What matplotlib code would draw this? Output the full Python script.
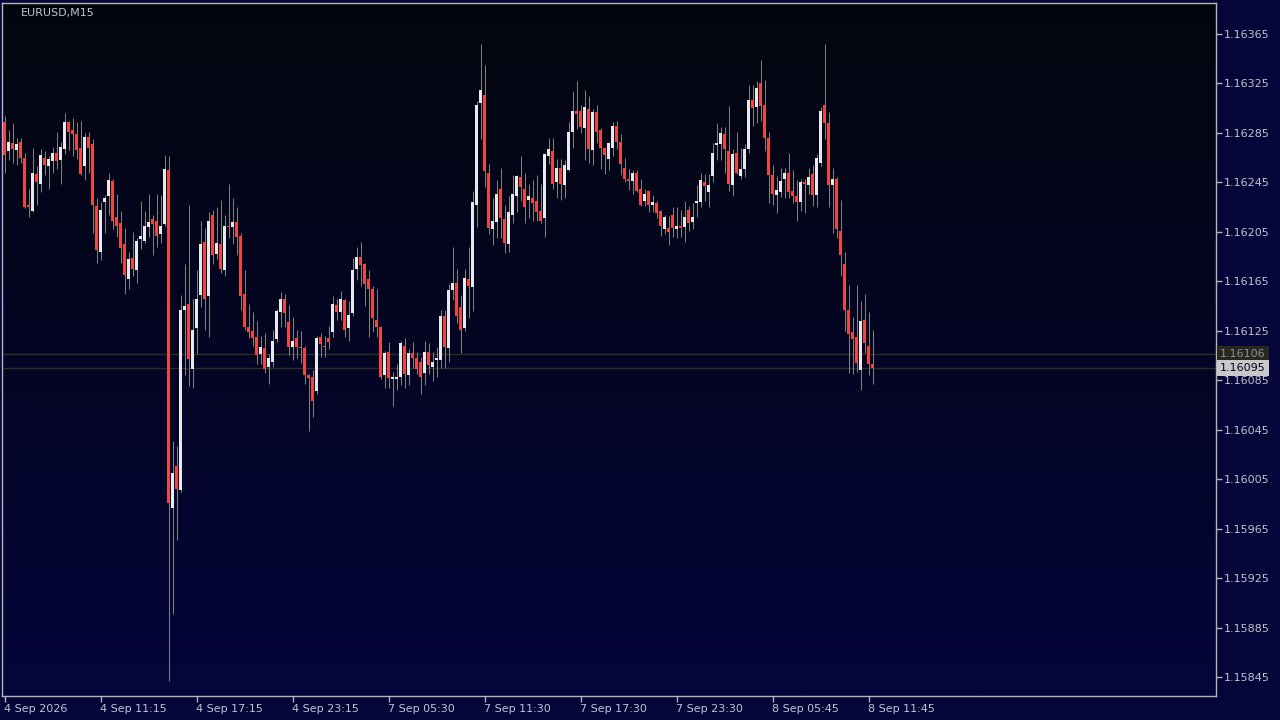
import numpy as np
import matplotlib.pyplot as plt
from matplotlib.colors import LinearSegmentedColormap

# EURUSD M15 - prices in points (1e-5)
symbol = 'EURUSD,M15'

opens = [116294, 116270, 116277, 116271, 116278, 116265, 116227, 116222, 116252, 116244,
         116265, 116258, 116262, 116269, 116263, 116272, 116294, 116287, 116284, 116273,
         116258, 116282, 116276, 116226, 116189, 116229, 116234, 116246, 116217, 116212,
         116195, 116167, 116184, 116174, 116199, 116198, 116209, 116215, 116214, 116203,
         116211, 116255, 115982, 116016, 115996, 116142, 116147, 116094, 116127, 116154,
         116197, 116153, 116219, 116187, 116195, 116174, 116210, 116209, 116213, 116202,
         116155, 116128, 116125, 116120, 116106, 116111, 116096, 116100, 116118, 116140,
         116151, 116132, 116112, 116119, 116112, 116111, 116089, 116088, 116076, 116120,
         116113, 116119, 116124, 116146, 116140, 116150, 116127, 116139, 116175, 116185,
         116179, 116167, 116159, 116134, 116128, 116089, 116108, 116086, 116086, 116088,
         116113, 116089, 116107, 116103, 116100, 116091, 116108, 116096, 116101, 116101,
         116137, 116111, 116158, 116164, 116144, 116127, 116167, 116160, 116227, 116309,
         116316, 116253, 116207, 116213, 116240, 116215, 116195, 116219, 116234, 116249,
         116240, 116231, 116232, 116230, 116222, 116216, 116266, 116270, 116245, 116257,
         116243, 116255, 116286, 116303, 116303, 116289, 116304, 116271, 116302, 116287,
         116273, 116264, 116273, 116291, 116278, 116257, 116248, 116246, 116253, 116240,
         116230, 116238, 116227, 116228, 116222, 116207, 116208, 116219, 116207, 116210,
         116209, 116223, 116213, 116228, 116229, 116245, 116237, 116250, 116275, 116276,
         116284, 116270, 116243, 116269, 116250, 116256, 116272, 116312, 116306, 116325,
         116308, 116281, 116251, 116235, 116237, 116248, 116253, 116238, 116234, 116229,
         116245, 116243, 116252, 116235, 116261, 116308, 116293, 116243, 116248, 116206,
         116179, 116142, 116124, 116120, 116093, 116134, 116113, 116098]

highs = [116299, 116287, 116293, 116281, 116281, 116269, 116240, 116273, 116258, 116272,
         116270, 116266, 116274, 116286, 116278, 116301, 116295, 116297, 116294, 116295,
         116285, 116286, 116280, 116232, 116229, 116235, 116253, 116248, 116236, 116222,
         116208, 116189, 116205, 116200, 116230, 116222, 116236, 116219, 116236, 116235,
         116267, 116266, 116036, 116032, 116154, 116179, 116227, 116151, 116174, 116214,
         116208, 116221, 116223, 116225, 116231, 116219, 116244, 116232, 116225, 116204,
         116174, 116147, 116140, 116133, 116121, 116123, 116106, 116126, 116143, 116156,
         116155, 116146, 116136, 116126, 116125, 116113, 116090, 116093, 116121, 116123,
         116121, 116129, 116153, 116151, 116157, 116151, 116149, 116184, 116193, 116197,
         116180, 116174, 116161, 116159, 116129, 116109, 116116, 116092, 116098, 116117,
         116119, 116110, 116116, 116108, 116104, 116117, 116115, 116108, 116112, 116142,
         116142, 116163, 116193, 116175, 116154, 116175, 116193, 116238, 116311, 116357,
         116340, 116260, 116232, 116247, 116257, 116227, 116234, 116251, 116251, 116266,
         116253, 116244, 116247, 116251, 116244, 116269, 116281, 116281, 116264, 116264,
         116263, 116294, 116319, 116327, 116308, 116320, 116315, 116304, 116308, 116289,
         116274, 116278, 116294, 116295, 116284, 116265, 116256, 116255, 116255, 116248,
         116240, 116239, 116235, 116230, 116223, 116219, 116218, 116225, 116225, 116223,
         116230, 116226, 116228, 116243, 116253, 116252, 116252, 116277, 116293, 116290,
         116290, 116307, 116272, 116286, 116273, 116276, 116324, 116324, 116327, 116344,
         116328, 116286, 116259, 116250, 116257, 116257, 116269, 116255, 116247, 116248,
         116248, 116257, 116259, 116268, 116306, 116357, 116302, 116257, 116249, 116231,
         116189, 116162, 116136, 116162, 116149, 116155, 116140, 116126]

lows = [116253, 116263, 116261, 116259, 116261, 116224, 116217, 116221, 116227, 116237,
        116251, 116240, 116253, 116256, 116244, 116268, 116271, 116266, 116264, 116251,
        116247, 116253, 116204, 116180, 116182, 116204, 116219, 116207, 116201, 116180,
        116155, 116159, 116169, 116164, 116191, 116196, 116201, 116186, 116193, 116196,
        116210, 115842, 115896, 115956, 115995, 116089, 116080, 116079, 116106, 116144,
        116126, 116120, 116179, 116183, 116172, 116169, 116200, 116195, 116186, 116142,
        116126, 116119, 116113, 116098, 116098, 116091, 116082, 116096, 116116, 116128,
        116128, 116105, 116101, 116103, 116099, 116082, 116044, 116055, 116074, 116104,
        116104, 116110, 116120, 116134, 116134, 116120, 116117, 116137, 116166, 116161,
        116145, 116120, 116124, 116120, 116086, 116079, 116079, 116064, 116077, 116081,
        116079, 116081, 116095, 116090, 116074, 116081, 116090, 116084, 116088, 116095,
        116095, 116100, 116150, 116131, 116107, 116125, 116135, 116141, 116209, 116280,
        116241, 116203, 116194, 116200, 116200, 116188, 116189, 116212, 116221, 116230,
        116212, 116216, 116214, 116214, 116212, 116201, 116260, 116240, 116232, 116231,
        116232, 116254, 116273, 116288, 116285, 116263, 116261, 116259, 116277, 116256,
        116252, 116255, 116266, 116272, 116251, 116245, 116239, 116236, 116237, 116226,
        116226, 116221, 116221, 116216, 116202, 116203, 116194, 116201, 116200, 116201,
        116197, 116206, 116207, 116217, 116225, 116230, 116225, 116245, 116263, 116263,
        116253, 116238, 116234, 116252, 116248, 116249, 116269, 116291, 116293, 116295,
        116270, 116228, 116227, 116220, 116233, 116232, 116232, 116228, 116214, 116222,
        116220, 116236, 116226, 116225, 116258, 116280, 116225, 116204, 116200, 116169,
        116125, 116091, 116090, 116092, 116077, 116107, 116089, 116082]

closes = [116267, 116278, 116272, 116276, 116265, 116225, 116225, 116253, 116245, 116267,
          116259, 116264, 116269, 116262, 116274, 116294, 116286, 116284, 116271, 116252,
          116282, 116273, 116227, 116190, 116223, 116232, 116247, 116214, 116210, 116192,
          116170, 116183, 116175, 116198, 116202, 116210, 116213, 116211, 116202, 116210,
          116256, 115986, 116010, 115997, 116142, 116145, 116102, 116126, 116151, 116195,
          116151, 116214, 116186, 116196, 116175, 116210, 116209, 116213, 116201, 116153,
          116128, 116124, 116119, 116105, 116112, 116094, 116103, 116117, 116141, 116151,
          116139, 116112, 116117, 116112, 116111, 116089, 116087, 116068, 116119, 116114,
          116112, 116116, 116147, 116140, 116151, 116126, 116138, 116174, 116185, 116178,
          116163, 116159, 116135, 116128, 116088, 116107, 116087, 116088, 116088, 116115,
          116090, 116107, 116103, 116094, 116088, 116108, 116097, 116100, 116103, 116137,
          116112, 116158, 116164, 116137, 116126, 116168, 116161, 116229, 116308, 116320,
          116254, 116208, 116214, 116236, 116216, 116196, 116221, 116236, 116250, 116241,
          116225, 116234, 116228, 116221, 116214, 116268, 116272, 116244, 116257, 116244,
          116259, 116286, 116303, 116300, 116290, 116306, 116272, 116302, 116286, 116273,
          116267, 116277, 116291, 116278, 116260, 116248, 116246, 116253, 116238, 116227,
          116236, 116227, 116229, 116220, 116210, 116217, 116205, 116208, 116210, 116208,
          116217, 116212, 116217, 116230, 116247, 116242, 116243, 116269, 116277, 116285,
          116272, 116244, 116268, 116253, 116256, 116272, 116312, 116305, 116321, 116307,
          116281, 116251, 116236, 116239, 116246, 116253, 116237, 116234, 116229, 116245,
          116244, 116249, 116235, 116265, 116303, 116293, 116243, 116248, 116207, 116186,
          116142, 116122, 116118, 116099, 116133, 116115, 116098, 116095]

time_labels = ['4 Sep 2026', '4 Sep 11:15', '4 Sep 17:15', '4 Sep 23:15', '7 Sep 05:30',
               '7 Sep 11:30', '7 Sep 17:30', '7 Sep 23:30', '8 Sep 05:45', '8 Sep 11:45']
label_bars = [0, 24, 48, 72, 96, 120, 144, 168, 192, 216]

price_ticks = [1.15845, 1.15885, 1.15925, 1.15965, 1.16005, 1.16045, 1.16085,
               1.16125, 1.16165, 1.16205, 1.16245, 1.16285, 1.16325, 1.16365]
bid = 1.16095
ask = 1.16106

o = np.array(opens) / 1e5
h = np.array(highs) / 1e5
l = np.array(lows) / 1e5
c = np.array(closes) / 1e5
x = np.arange(len(o))

bull = c >= o
body_low = np.minimum(o, c)
body_h = np.maximum(np.abs(c - o), 0.000008)
colors = np.where(bull, '#e8e8ee', '#f24444')

fig = plt.figure(figsize=(12.8, 7.2), dpi=100, facecolor='#05053a')
ax = fig.add_axes([2 / 1280, 24 / 720, 1214 / 1280, 693 / 720])

# background gradient (dark on top, navy at bottom)
bg = LinearSegmentedColormap.from_list('bg', ['#03060e', '#05053a'])
ax.imshow(np.linspace(0, 1, 256).reshape(-1, 1), cmap=bg, extent=[0, 1, 0, 1],
          transform=ax.transAxes, aspect='auto', zorder=0)

ax.axhline(ask, color='#2e2e22', lw=1, zorder=1)
ax.axhline(bid, color='#2e2e22', lw=1, zorder=1)

# candles: 4 px per bar, 3 px body, 1 px wick (x range chosen so edges sit on pixels)
ax.vlines(x, l, h, color='#808080', lw=0.72, zorder=2)
ax.bar(x, body_h, bottom=body_low, width=0.75, color=colors, linewidth=0, zorder=3)

ax.set_xlim(-0.625, 302.875)
ax.set_ylim(1.158296, 1.163901)

ax.set_xticks(label_bars)
ax.set_xticklabels(time_labels, ha='left')
ax.yaxis.tick_right()
ax.set_yticks(price_ticks)
ax.set_yticklabels(['%.5f' % p for p in price_ticks])

ax.tick_params(axis='both', direction='out', length=4, color='#b4b4b4',
               labelcolor='#c0c4cc', labelsize=8, width=1)
ax.tick_params(axis='x', pad=2)
ax.tick_params(axis='y', pad=1.5)

for s in ax.spines.values():
    s.set_color('#b4b4b4')
    s.set_linewidth(1)

ax.annotate('%.5f' % ask, xy=(1, ask), xycoords=('axes fraction', 'data'),
            xytext=(3, 0), textcoords='offset points', va='center', ha='left',
            fontsize=8, color='#8a90a8', annotation_clip=False,
            bbox=dict(boxstyle='square,pad=0.25', fc='#28281c', ec='none'))
ax.annotate('%.5f' % bid, xy=(1, bid), xycoords=('axes fraction', 'data'),
            xytext=(3, 0), textcoords='offset points', va='center', ha='left',
            fontsize=8, color='#000020', annotation_clip=False,
            bbox=dict(boxstyle='square,pad=0.25', fc='#c8c8c8', ec='none'))

fig.text(21 / 1280, 1 - 13 / 720, symbol, fontsize=8, color='#c0c4cc',
         va='center', ha='left')

fig.savefig('out.png', dpi=100, facecolor=fig.get_facecolor())
